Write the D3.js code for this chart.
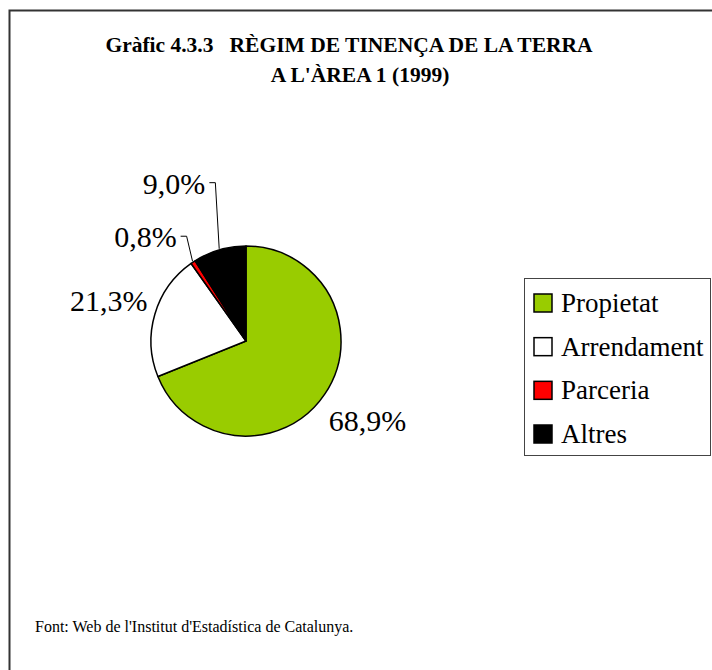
<!DOCTYPE html>
<html>
<head>
<meta charset="utf-8">
<script src="https://cdn.jsdelivr.net/npm/d3@7"></script>
<style>
  body { margin: 0; background: #fff; }
  svg { display: block; font-family: "Liberation Serif", "Times New Roman", serif; }
</style>
</head>
<body>
<script>
// data
const categories = ["Propietat", "Arrendament", "Parceria", "Altres"];
const values = [68.9, 21.3, 0.8, 9.0];
const colors = ["#99cc00", "#ffffff", "#ff0000", "#000000"];
// labels dragged by hand in the original (small slices)
const labelNudge = [[3, 0], [0, 0], [-21, 15], [-32, -20]];

const width = 712, height = 670;
const cx = 246, cy = 341, r = 95;

const svg = d3.select("body").append("svg")
  .attr("width", width).attr("height", height);

// frame
svg.append("rect")
  .attr("x", 9.5).attr("y", 10.5)
  .attr("width", 720).attr("height", 680)
  .attr("fill", "none").attr("stroke", "#333").attr("stroke-width", 2);

// title
const title = svg.append("g").attr("font-weight", "bold").attr("font-size", 21.5)
  .attr("text-anchor", "middle");
title.append("text").attr("x", 349).attr("y", 52).attr("xml:space", "preserve")
  .text("Gràfic 4.3.3   RÈGIM DE TINENÇA DE LA TERRA");
title.append("text").attr("x", 360).attr("y", 82).text("A L'ÀREA 1 (1999)");

// pie
const pie = d3.pie().sort(null).value(d => d)(values);
const arc = d3.arc().innerRadius(0).outerRadius(r);
const labelArc = d3.arc().innerRadius(143).outerRadius(143);

const g = svg.append("g").attr("transform", `translate(${cx},${cy})`);
g.selectAll("path").data(pie).enter().append("path")
  .attr("d", arc)
  .attr("fill", (d, i) => colors[i])
  .attr("stroke", "#000")
  .attr("stroke-width", 1.5)
  .attr("stroke-linejoin", "round");

// labels
const fmt = v => d3.format(".1f")(v).replace(".", ",") + "%";
g.selectAll("text.lbl").data(pie).enter().append("text")
  .attr("class", "lbl")
  .attr("font-size", 30)
  .attr("text-anchor", "middle")
  .each(function(d, i) {
    const c = labelArc.centroid(d);
    const x = c[0] + labelNudge[i][0], y = c[1] + labelNudge[i][1];
    d3.select(this).attr("x", x).attr("y", y + 10).text(fmt(d.value));
    if (i >= 2) {
      // leader line from the label's right side to the slice edge
      const w = this.getComputedTextLength();
      const x0 = x + w / 2 + 4, y0 = y - 1;
      const a = (d.startAngle + d.endAngle) / 2;
      const ex = Math.sin(a) * (r + 1), ey = -Math.cos(a) * (r + 1);
      g.append("polyline")
        .attr("points", `${x0},${y0} ${x0 + 6},${y0} ${ex},${ey}`)
        .attr("fill", "none").attr("stroke", "#000").attr("stroke-width", 1);
    }
  });

// legend
const legend = svg.append("g");
legend.append("rect")
  .attr("x", 524.5).attr("y", 278.5).attr("width", 186).attr("height", 177)
  .attr("fill", "#fff").attr("stroke", "#444").attr("stroke-width", 1);
const ly = d3.scalePoint().domain(categories).range([303, 434]);
const items = legend.selectAll("g.item").data(categories).enter().append("g")
  .attr("class", "item")
  .attr("transform", d => `translate(0,${ly(d)})`);
items.append("rect")
  .attr("x", 534).attr("y", -9).attr("width", 18).attr("height", 18)
  .attr("fill", (d, i) => colors[i])
  .attr("stroke", "#000").attr("stroke-width", 1.5);
items.append("text")
  .attr("x", 561).attr("y", 9).attr("font-size", 27)
  .text(d => d);

// source
svg.append("text")
  .attr("x", 35).attr("y", 632).attr("font-size", 16)
  .text("Font: Web de l'Institut d'Estadística de Catalunya.");
</script>
</body>
</html>
